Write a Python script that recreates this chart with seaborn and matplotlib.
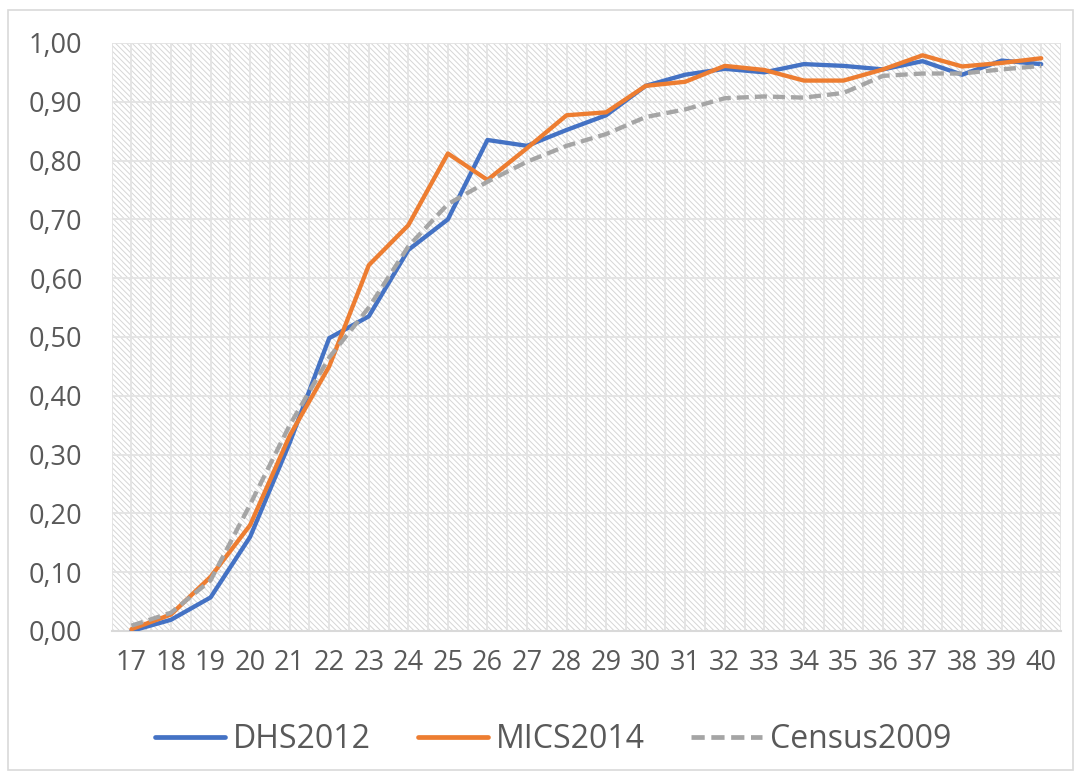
import numpy as np
import pandas as pd
import matplotlib
matplotlib.use("Agg")
import matplotlib.pyplot as plt
from matplotlib.patches import Rectangle
import seaborn as sns

# Données
ages = list(range(17, 41))
dhs2012 = [0.000, 0.019, 0.057, 0.160, 0.320, 0.498, 0.535, 0.648, 0.700, 0.835,
           0.825, 0.852, 0.877, 0.927, 0.946, 0.956, 0.950, 0.964, 0.961, 0.955,
           0.969, 0.946, 0.970, 0.964]
mics2014 = [0.003, 0.028, 0.092, 0.180, 0.332, 0.450, 0.622, 0.690, 0.812, 0.767,
            0.821, 0.877, 0.882, 0.927, 0.934, 0.961, 0.954, 0.936, 0.936, 0.955,
            0.979, 0.960, 0.966, 0.974]
census2009 = [0.009, 0.031, 0.086, 0.215, 0.350, 0.465, 0.550, 0.654, 0.726, 0.764,
              0.798, 0.825, 0.845, 0.874, 0.887, 0.906, 0.909, 0.907, 0.915, 0.944,
              0.948, 0.948, 0.955, 0.961]
series_names = ["DHS2012", "MICS2014", "Census2009"]

df = pd.DataFrame({
    "age": ages * 3,
    "value": dhs2012 + mics2014 + census2009,
    "survey": [n for n in series_names for _ in ages],
})

sns.set_theme(style="white")
plt.rcParams["font.family"] = ["Open Sans", "DejaVu Sans"]
plt.rcParams["hatch.linewidth"] = 0.7
plt.rcParams["hatch.color"] = "#d6d6d6"

fig = plt.figure(figsize=(10.81, 7.78), dpi=100)
ax = fig.add_axes([0.1033, 0.189, 0.8782, 0.7558])

# Fond hachuré de la zone de tracé
ax.add_patch(Rectangle((0, 0), 1, 1, transform=ax.transAxes, facecolor="white",
                       edgecolor="#d6d6d6", hatch="\\\\\\\\\\\\", lw=0, zorder=0))

palette = {"DHS2012": "#4472C4", "MICS2014": "#ED7D31", "Census2009": "#A5A5A5"}
dashes = {"DHS2012": "", "MICS2014": "", "Census2009": (2.8, 1.4)}
sns.lineplot(data=df, x="age", y="value", hue="survey", style="survey",
             hue_order=series_names, style_order=series_names,
             palette=palette, dashes=dashes, linewidth=3.1, ax=ax, zorder=3)

ax.set_xlim(16.5, 40.5)
ax.set_ylim(0, 1)
ax.set_xticks(ages)
ax.set_xticklabels([str(a) for a in ages])
ax.set_xticks(np.arange(16.5, 41, 1), minor=True)
yt = np.arange(0, 1.01, 0.1)
ax.set_yticks(yt)
ax.set_yticklabels([f"{v:.2f}".replace(".", ",") for v in yt])
ax.grid(True, which="both", color="#e3e3e3", lw=1.3, zorder=1)
ax.set_axisbelow(True)
ax.tick_params(which="both", length=0)
ax.tick_params(axis="y", labelsize=19.5, labelcolor="#595959", pad=21)
ax.tick_params(axis="x", labelsize=19.5, labelcolor="#595959", pad=13)
ax.set_xlabel("")
ax.set_ylabel("")
for s in ["top", "left", "right"]:
    ax.spines[s].set_visible(False)
ax.spines["bottom"].set_color("#d9d9d9")
ax.spines["bottom"].set_linewidth(1.5)

handles, labels = ax.get_legend_handles_labels()
ax.get_legend().remove()
leg = fig.legend(handles, labels, loc="center", bbox_to_anchor=(553 / 1081, 1 - 740 / 778),
                 ncol=3, frameon=False, handlelength=2.2, columnspacing=1.45,
                 handletextpad=0.25, prop={"family": "Open Sans", "size": 23},
                 labelcolor="#595959")
for h in leg.get_lines():
    h.set_linewidth(3.4)

# Bordure du graphique
fig.patches.append(Rectangle((8 / 1081, 8 / 778), 1 - 16 / 1081, 1 - 18 / 778,
                             transform=fig.transFigure, fill=False,
                             edgecolor="#d9d9d9", lw=1.2))

plt.savefig("out.png", dpi=100)
plt.close()
